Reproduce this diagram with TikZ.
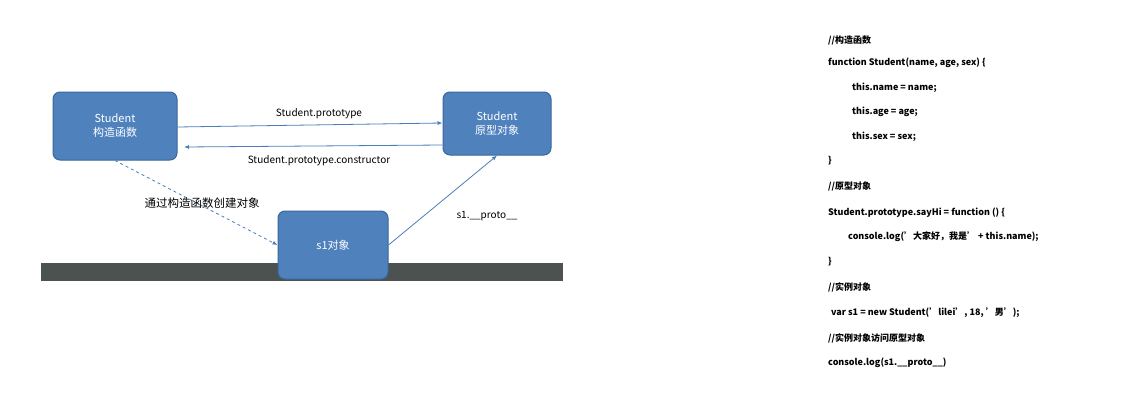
\documentclass[tikz,border=0pt]{standalone}
\usepackage{fontspec}
\setmainfont{Noto Sans CJK SC}
\usetikzlibrary{arrows.meta}
\definecolor{boxblue}{HTML}{4F81BD}
\definecolor{boxline}{HTML}{3A679C}
\definecolor{arrowblue}{HTML}{4A7EBB}
\definecolor{floor}{HTML}{4B5250}
\tikzset{%
	% nodes of the diagram
	base/.style = {rectangle, rounded corners=7pt, draw=boxline, line width=1pt,
		fill=boxblue, text=white, align=center, font=\fontsize{11}{14}\selectfont},
	link/.style = {-{Latex[length=5pt,width=4pt]}, arrowblue, line width=0.8pt},
	lbl/.style = {font=\fontsize{10}{12}\selectfont},
	codeline/.style = {anchor=west, font=\bfseries\fontsize{9}{11}\selectfont, inner sep=0pt},
}
\begin{document}
\begin{tikzpicture}[x=1pt, y=-1pt]
\useasboundingbox (0,0) rectangle (1138,407);

\fill[floor] (41,263) rectangle (563,281);
\node (ctor) [base, minimum width=124pt, minimum height=68pt] at (115,126) {Student\\构造函数};
\node (proto) [base, minimum width=108pt, minimum height=63pt] at (497,123.5) {Student\\原型对象};
\node (s1) [base, minimum width=110pt, minimum height=68pt] at (333,245) {s1对象};

\draw[link] (ctor.east |- 0,127) -- (proto.west |- 0,123);
\draw[link] (proto.west |- 0,145) -- (184,147);
\draw[link, dashed] (ctor.south) -- (s1.west);
\draw[link] (s1.east) -- (proto.south);

\node[lbl] at (319,114) {Student.prototype};
\node[lbl] at (319,161) {Student.prototype.constructor};
\node[lbl, font=\fontsize{11.5}{14}\selectfont] at (202,203) {通过构造函数创建对象};
\node[lbl] at (487,216) {s1.\_\_proto\_\_};

% code listing
\foreach \y/\t in {40/{//构造函数},
	63/{function Student(name, age, sex) \{},
	88/{\hspace{24pt}this.name = name;},
	112/{\hspace{24pt}this.age = age;},
	137/{\hspace{24pt}this.sex = sex;},
	161/{\}},
	186/{//原型对象},
	213/{Student.prototype.sayHi = function () \{},
	237/{\hspace{20pt}console.log('大家好，我是' + this.name);},
	262/{\}},
	287/{//实例对象},
	313/{\hspace{3pt}var s1 = new Student('lilei', 18, '男');},
	338/{//实例对象访问原型对象},
	363/{console.log(s1.\_\_proto\_\_)}}
	\node[codeline] at (828,\y) {\t};
\end{tikzpicture}
\end{document}
